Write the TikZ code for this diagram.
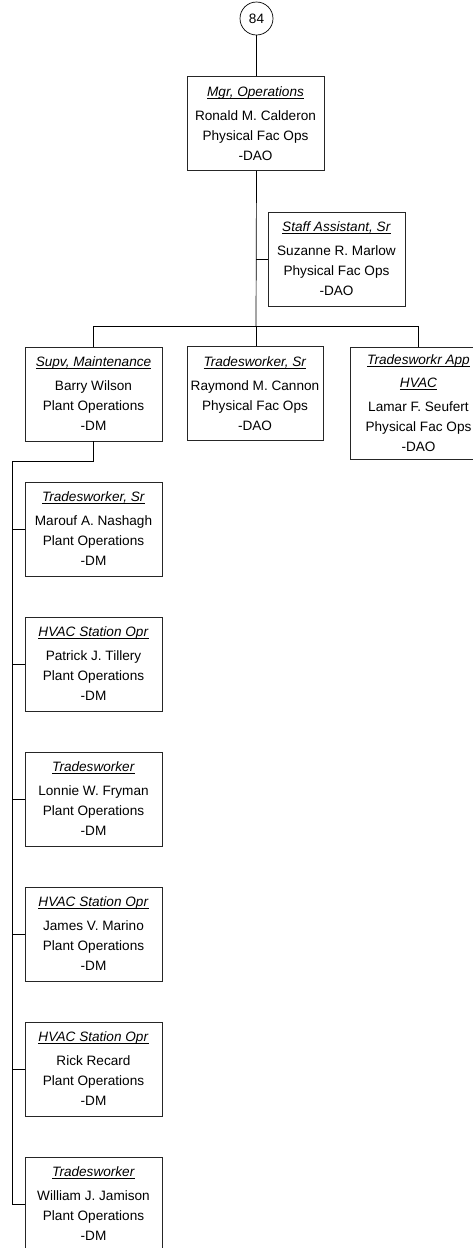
\documentclass[tikz,border=0pt]{standalone}
\usepackage{fontspec}
\setmainfont{Liberation Sans}
\tikzset{
  orgbox/.style={draw=black!85, line width=0.7pt, fill=white, inner sep=0pt, align=center,
    font=\fontsize{13.6}{20}\selectfont, minimum height=94pt},
  wbox/.style={orgbox, minimum width=137pt},
  link/.style={draw=black, line width=0.7pt},
}
\newcommand{\ttl}[1]{{\setbox0\hbox{\textit{#1}}\rlap{\rule[-2.4pt]{\wd0}{0.9pt}}\box0}}
\begin{document}
\begin{tikzpicture}[x=1pt,y=-1pt]
\clip (0,0) rectangle (473,1248);
\fill[white] (0,0) rectangle (473,1248);
% top circle
\node[draw, line width=0.7pt, circle, minimum size=33pt, inner sep=0pt, font=\fontsize{13.6}{16}\selectfont] (c) at (256.5,18.5) {84};
% manager
\node[wbox] (mgr) at (255.5,123.5) {\ttl{Mgr, Operations}\\[4pt]Ronald M. Calderon\\Physical Fac Ops\\-DAO};
\node[wbox] (staff) at (336.5,259) {\ttl{Staff Assistant, Sr}\\[4pt]Suzanne R. Marlow\\Physical Fac Ops\\-DAO};
% second level
\node[wbox] (supv) at (93.5,394) {\ttl{Supv, Maintenance}\\[4pt]Barry Wilson\\Plant Operations\\-DM};
\node[wbox, minimum width=136pt] (tsr) at (255,393.5) {\ttl{Tradesworker, Sr}\\[4pt]Raymond M. Cannon\\Physical Fac Ops\\-DAO};
\node[wbox, minimum height=112pt] (app) at (418.5,403) {\ttl{Tradesworkr App}\\[3pt]\ttl{HVAC}\\[4pt]Lamar F. Seufert\\Physical Fac Ops\\-DAO};
% children of supv
\node[wbox] (k1) at (93.5,529) {\ttl{Tradesworker, Sr}\\[4pt]Marouf A. Nashagh\\Plant Operations\\-DM};
\node[wbox] (k2) at (93.5,664) {\ttl{HVAC Station Opr}\\[4pt]Patrick J. Tillery\\Plant Operations\\-DM};
\node[wbox] (k3) at (93.5,799) {\ttl{Tradesworker}\\[4pt]Lonnie W. Fryman\\Plant Operations\\-DM};
\node[wbox] (k4) at (93.5,934) {\ttl{HVAC Station Opr}\\[4pt]James V. Marino\\Plant Operations\\-DM};
\node[wbox] (k5) at (93.5,1069) {\ttl{HVAC Station Opr}\\[4pt]Rick Recard\\Plant Operations\\-DM};
\node[wbox] (k6) at (93.5,1204) {\ttl{Tradesworker}\\[4pt]William J. Jamison\\Plant Operations\\-DM};
% connectors
\coordinate (tr) at (256,326);
\coordinate (sv) at (12,461);
\draw[link] (c.south) -- (c.south |- mgr.north);
\draw[link] (c.south |- mgr.south) -- (tr);
\draw[link] (tr |- staff.west) -- (staff.west);
\draw[link] (supv.north) -- (supv.north |- tr) -- (app.north |- tr) -- (app.north);
\draw[link] (tr) -- (tr |- tsr.north);
\draw[link] (supv.south) -- (supv.south |- sv) -- (sv) -- (sv |- k6.west) -- (k6.west);
\foreach \k in {k1,k2,k3,k4,k5}{
  \draw[link] (sv |- \k.west) -- (\k.west);
}
\end{tikzpicture}
\end{document}
